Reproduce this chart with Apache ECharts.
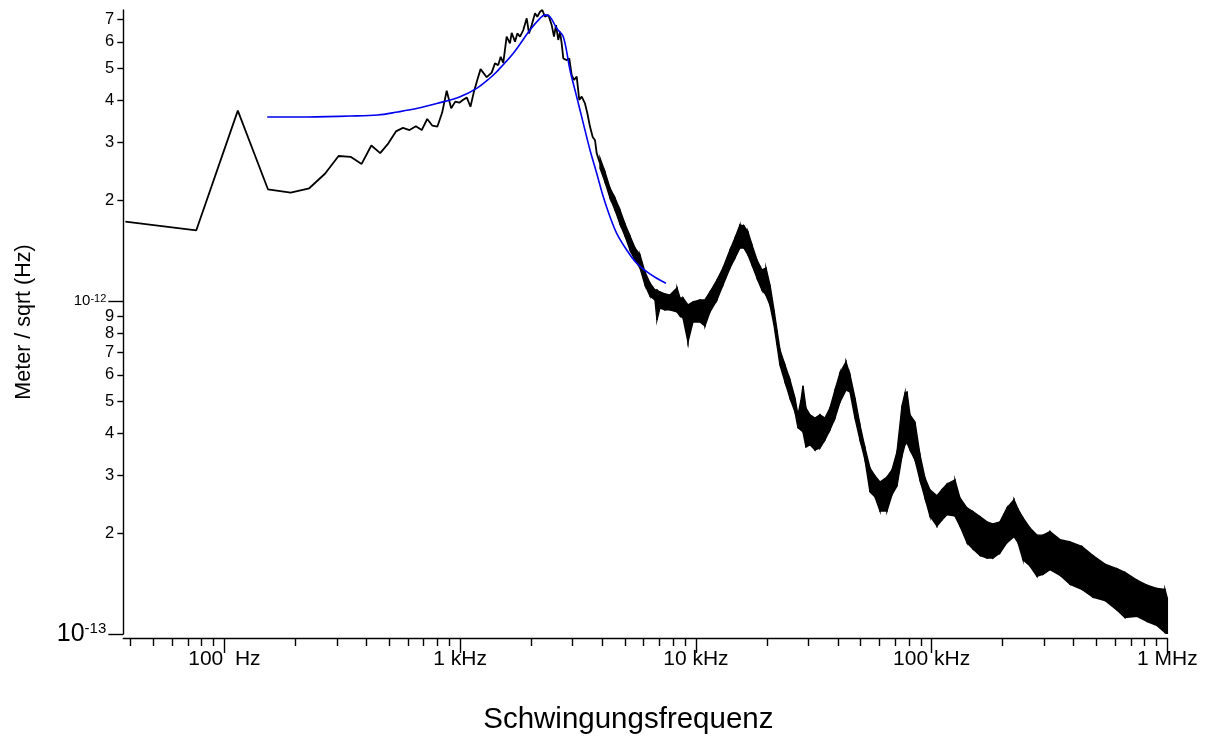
<!DOCTYPE html>
<html><head><meta charset="utf-8">
<script src="https://cdn.jsdelivr.net/npm/echarts@6.0.0/dist/echarts.min.js"></script>
<style>html,body{margin:0;padding:0;background:#fff}#c{width:1206px;height:736px}</style>
</head><body><div id="c"></div>
<script>
// values in units of 1e-12 m/sqrt(Hz); frequencies in Hz
const UNIT = 1e-12;
const traceFreq = [38,76,114,153,191,229,267,305,343,382,420,458,496,534,572,610,649,687,725,763,801,839,877,916,954,992,1030,1068,1106,1145,1183,1221,1296,1361,1405,1451,1486,1524,1575,1627,1654,1709,1748,1795,1853,1916,1960,2012,2078,2125,2182,2231,2291,2366,2446,2501,2550,2608,2652,2696,2739,2831,2904,2973,3041,3122,3202,3278,3385,3462,3555,3650,3733,3795,3920];
const traceVal = [1.73,1.63,3.73,2.165,2.115,2.18,2.41,2.725,2.71,2.58,2.93,2.78,2.975,3.23,3.31,3.26,3.35,3.26,3.52,3.36,3.34,3.68,4.28,3.79,3.97,3.94,4.02,4.08,3.83,4.26,4.62,4.97,4.70,4.85,5.17,5.11,5.41,5.19,6.22,5.94,6.39,6.01,6.36,6.22,6.51,7.06,6.36,6.74,7.31,7.14,7.39,7.48,7.14,7.23,6.74,6.22,6.74,6.08,6.43,5.94,5.35,5.29,5.35,4.77,4.61,4.72,4.015,4.11,3.92,3.67,3.34,3.11,3.04,2.78,2.59];
const bandFreq = [3920,4116,4322,4538,4765,5004,5254,5517,5793,6083,6388,6707,6839,7043,7395,7765,8317,8564,8818,9259,9721,10409,10929,11476,12286,13032,13951,14649,15382,15995,16634,17298,18160,19069,19830,20622,21445,22083,22740,23878,25074,26328,27111,27917,28468,29315,30482,32007,33609,35291,37057,38912,40857,43332,45060,47315,49683,52170,54781,57519,60398,64668,67906,71299,74867,77098,78620,80960,85008,89263,93730,98400,105360,110630,116180,125610,131900,141240,149730,160350,171780,182010,194990,208780,223650,232560,244210,261410,279850,296720,317770,350400,386370,434390,483520,543620,611400,660950,743080,819350,903210,976840,1000000];
const bandHigh = [2.688,2.440,2.184,2.039,1.876,1.703,1.568,1.443,1.375,1.222,1.132,1.079,1.079,1.064,1.050,1.042,1.094,1.021,1.021,0.973,0.993,1.007,1.007,1.064,1.156,1.256,1.423,1.546,1.691,1.680,1.612,1.473,1.328,1.239,1.256,1.117,0.940,0.818,0.713,0.642,0.579,0.511,0.455,0.504,0.556,0.477,0.455,0.445,0.455,0.445,0.477,0.540,0.608,0.656,0.600,0.511,0.424,0.362,0.315,0.298,0.286,0.296,0.311,0.352,0.484,0.529,0.533,0.455,0.433,0.345,0.294,0.271,0.260,0.271,0.282,0.290,0.256,0.239,0.233,0.225,0.217,0.214,0.217,0.239,0.253,0.237,0.223,0.208,0.198,0.198,0.203,0.192,0.189,0.183,0.172,0.162,0.157,0.153,0.145,0.140,0.137,0.136,0.128];
const bandLow = [2.508,2.277,2.039,1.876,1.703,1.568,1.423,1.328,1.256,1.117,1.035,1.007,0.877,0.953,0.940,0.940,0.927,0.902,0.889,0.753,0.865,0.865,0.841,0.927,1.007,1.117,1.256,1.346,1.443,1.443,1.375,1.283,1.172,1.079,1.042,0.973,0.847,0.738,0.642,0.571,0.511,0.464,0.416,0.410,0.404,0.364,0.370,0.357,0.362,0.383,0.410,0.445,0.497,0.540,0.533,0.445,0.383,0.333,0.267,0.258,0.234,0.234,0.262,0.278,0.342,0.370,0.375,0.357,0.333,0.290,0.256,0.226,0.211,0.220,0.228,0.226,0.211,0.188,0.180,0.172,0.169,0.169,0.175,0.188,0.196,0.188,0.167,0.160,0.149,0.151,0.156,0.150,0.141,0.136,0.129,0.126,0.118,0.112,0.113,0.109,0.106,0.101,0.100];
const fitFreq = [152,209,341,447,543,661,803,999,1175,1338,1429,1681,1978,2182,2291,2405,2568,2739,2924,3122,3330,3555,3795,4048,4322,4614,5088,5610,6184,6820,7466];
const fitVal = [3.568,3.568,3.593,3.618,3.695,3.790,3.923,4.106,4.352,4.674,4.882,5.545,6.513,7.06,7.23,7.14,6.590,6.218,4.940,4.106,3.416,2.841,2.418,2.057,1.791,1.597,1.423,1.298,1.225,1.170,1.130];

const xMajorTicks = [100, 1000, 10000, 100000, 1000000];
const xMajorLabels = ['100  Hz', '1 kHz', '10 kHz', '100 kHz', '1 MHz'];
const xMinorTicks = [40,50,60,70,80,90,200,300,400,500,600,700,800,900,2000,3000,4000,5000,6000,7000,8000,9000,20000,30000,40000,50000,60000,70000,80000,90000,200000,300000,400000,500000,600000,700000,800000,900000];
const yMajorTicks = [1e-13, 1e-12];
const yMajorLabels = ['{a13|10}{s13|-13}', '{a12|10}{s12|-12}'];
const yMinorTicks = [2e-13,3e-13,4e-13,5e-13,6e-13,7e-13,8e-13,9e-13,2e-12,3e-12,4e-12,5e-12,6e-12,7e-12];
const yMinorLabels = ['2','3','4','5','6','7','8','9','2','3','4','5','6','7'];

const X_MIN = 37.25, X_MAX = 1.0005e6, Y_MIN = 0.9995e-13, Y_MAX = 7.48e-12;
const FONT = 'Liberation Sans, Arial, sans-serif';
const axisCol = '#000';

function pick(ticks, labels, v) {
  for (let i = 0; i < ticks.length; i++) if (Math.abs(ticks[i] - v) / ticks[i] < 1e-6) return labels[i];
  return '';
}

const chart = echarts.init(document.getElementById('c'), null, {renderer: 'canvas'});
const baseX = {type: 'log', logBase: 10, min: X_MIN, max: X_MAX, position: 'bottom', offset: 4, splitLine: {show: false}, axisLine: {onZero: false}};
const baseY = {type: 'log', logBase: 10, min: Y_MIN, max: Y_MAX, position: 'left', splitLine: {show: false}, axisLine: {onZero: false}};

chart.setOption({
  animation: false,
  backgroundColor: '#fff',
  textStyle: {fontFamily: FONT, color: '#000'},
  grid: {left: 123.3, right: 38.6, top: 10, bottom: 102, containLabel: false, outerBoundsMode: 'none'},
  xAxis: [
    Object.assign({}, baseX, {
      axisLine: {show: true, onZero: false, lineStyle: {color: axisCol, width: 1.4}},
      axisTick: {show: true, length: 15, customValues: xMajorTicks, lineStyle: {color: axisCol, width: 1.4}},
      axisLabel: {show: true, customValues: xMajorTicks, margin: 11, fontSize: 21, color: '#000', fontFamily: FONT,
        formatter: v => pick(xMajorTicks, xMajorLabels, v)},
      name: 'Schwingungsfrequenz', nameLocation: 'middle', nameGap: 67,
      nameTextStyle: {fontSize: 29.5, color: '#000', fontFamily: FONT, padding: [0, 34, 0, 0]}
    }),
    Object.assign({}, baseX, {
      axisLine: {show: false, onZero: false},
      axisTick: {show: true, length: 8, customValues: xMinorTicks, lineStyle: {color: axisCol, width: 1.4}},
      axisLabel: {show: false}
    })
  ],
  yAxis: [
    Object.assign({}, baseY, {
      axisLine: {show: true, onZero: false, lineStyle: {color: axisCol, width: 1.4}},
      axisTick: {show: true, length: 15, customValues: yMajorTicks, lineStyle: {color: axisCol, width: 1.4}},
      axisLabel: {show: true, customValues: yMajorTicks, margin: 17, color: '#000', fontFamily: FONT,
        formatter: v => pick(yMajorTicks, yMajorLabels, v),
        rich: {
          a13: {fontSize: 25, fontFamily: FONT, color: '#000'},
          s13: {fontSize: 15, fontFamily: FONT, color: '#000', verticalAlign: 'top'},
          a12: {fontSize: 15, fontFamily: FONT, color: '#000'},
          s12: {fontSize: 11, fontFamily: FONT, color: '#000', verticalAlign: 'top'}
        }},
      name: 'Meter / sqrt (Hz)', nameLocation: 'middle', nameGap: 88, nameRotate: 90,
      nameTextStyle: {fontSize: 21.5, color: '#000', fontFamily: FONT}
    }),
    Object.assign({}, baseY, {
      axisLine: {show: false, onZero: false},
      axisTick: {show: true, length: 6, customValues: yMinorTicks, lineStyle: {color: axisCol, width: 1.4}},
      axisLabel: {show: true, customValues: yMinorTicks, margin: 9, fontSize: 16.5, color: '#000', fontFamily: FONT,
        formatter: v => pick(yMinorTicks, yMinorLabels, v)}
    })
  ],
  series: [
    {
      name: 'band', type: 'custom', silent: true, clip: true, z: 2,
      data: bandFreq.map((f, i) => [f, bandHigh[i] * UNIT, bandLow[i] * UNIT]),
      encode: {x: 0, y: [1, 2]},
      renderItem: function (params, api) {
        const i = params.dataIndex;
        if (i >= bandFreq.length - 1) return null;
        const a = api.coord([bandFreq[i], bandHigh[i] * UNIT]);
        const b = api.coord([bandFreq[i + 1], bandHigh[i + 1] * UNIT]);
        const c = api.coord([bandFreq[i + 1], bandLow[i + 1] * UNIT]);
        const d = api.coord([bandFreq[i], bandLow[i] * UNIT]);
        return {type: 'polygon', shape: {points: [a, b, c, d]}, style: {fill: '#000', stroke: '#000', lineWidth: 1.4}};
      }
    },
    {
      name: 'trace', type: 'line', silent: true, showSymbol: false, z: 3,
      data: traceFreq.map((f, i) => [f, traceVal[i] * UNIT]),
      lineStyle: {color: '#000', width: 1.8}, itemStyle: {color: '#000'}
    },
    {
      name: 'fit', type: 'line', silent: true, showSymbol: false, smooth: 0.35, z: 4,
      data: fitFreq.map((f, i) => [f, fitVal[i] * UNIT]),
      lineStyle: {color: '#0000ee', width: 1.6}, itemStyle: {color: '#0000ee'}
    }
  ]
});
</script></body></html>
